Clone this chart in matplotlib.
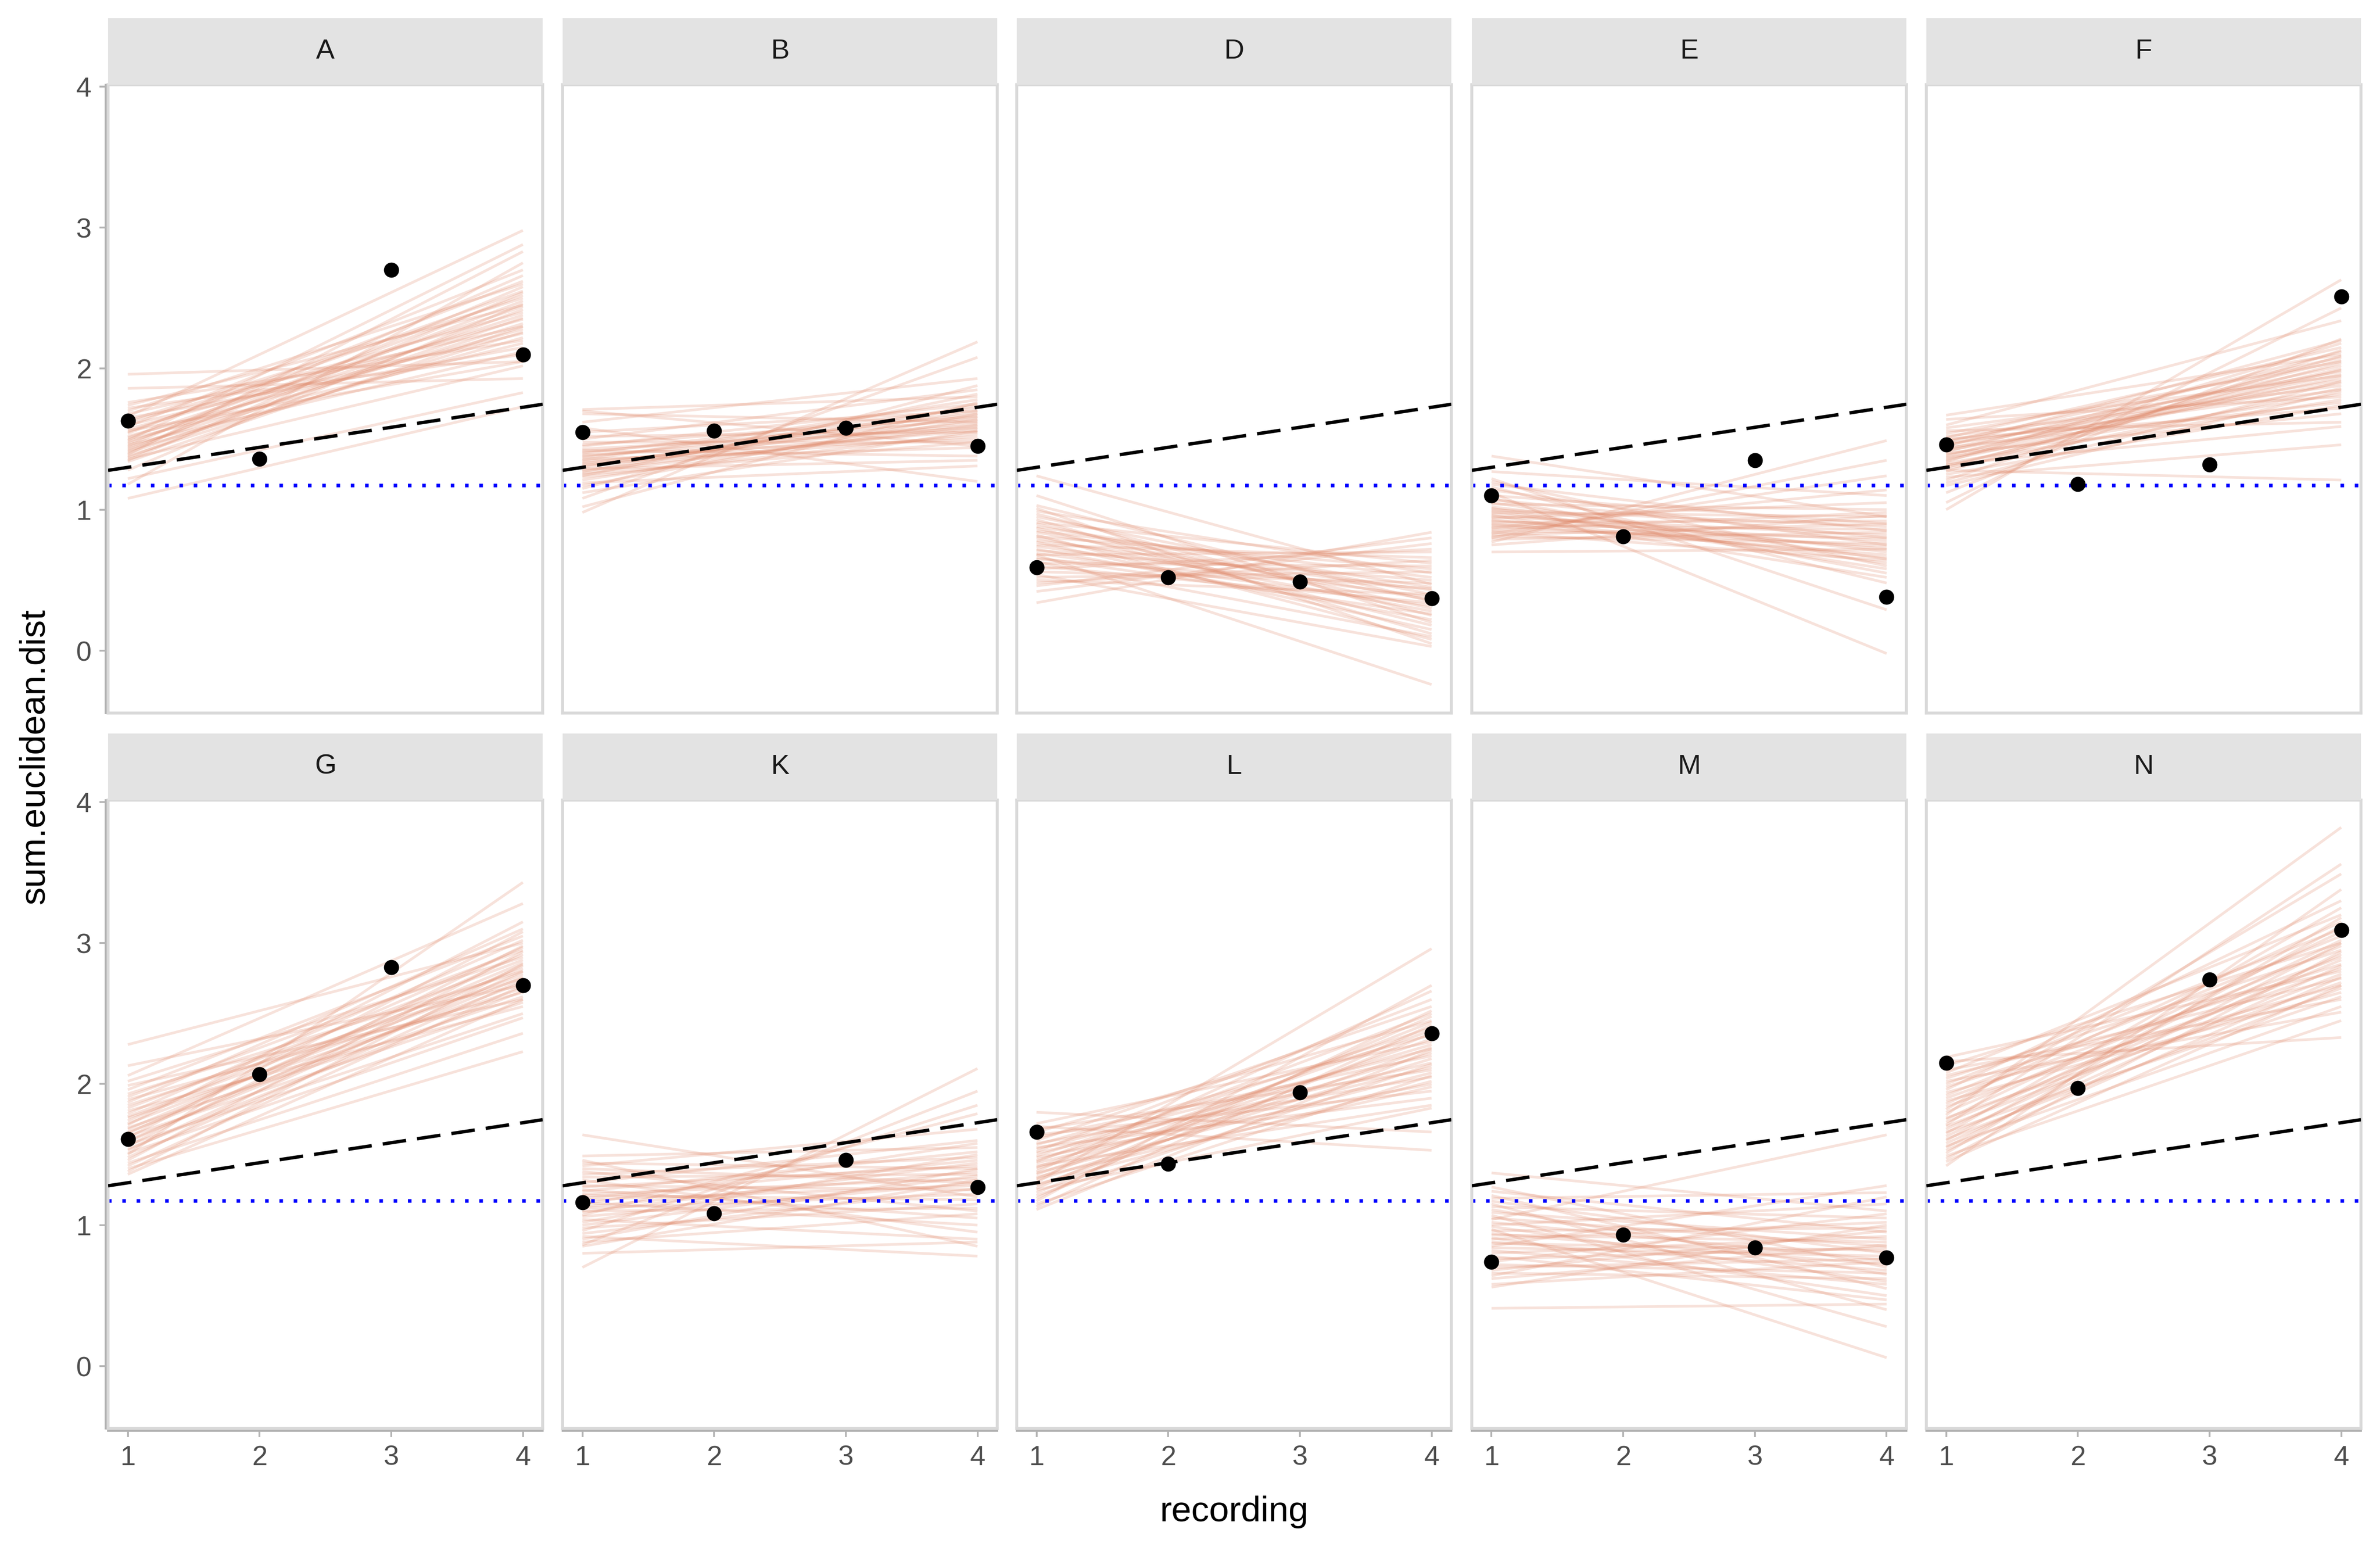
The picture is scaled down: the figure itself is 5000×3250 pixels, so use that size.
import matplotlib
matplotlib.use('Agg')
import matplotlib.pyplot as plt
from matplotlib.transforms import offset_copy

plt.rcParams['font.family'] = ['Liberation Sans', 'DejaVu Sans']

# facets and observed points (recording 1..4)
subjects = ['A', 'B', 'D', 'E', 'F', 'G', 'K', 'L', 'M', 'N']
recording = [1, 2, 3, 4]
obs = {
    'A': [1.63, 1.36, 2.70, 2.10],
    'B': [1.55, 1.56, 1.58, 1.45],
    'D': [0.59, 0.52, 0.49, 0.37],
    'E': [1.10, 0.81, 1.35, 0.38],
    'F': [1.46, 1.18, 1.32, 2.51],
    'G': [1.61, 2.07, 2.83, 2.70],
    'K': [1.16, 1.085, 1.46, 1.27],
    'L': [1.66, 1.435, 1.94, 2.36],
    'M': [0.74, 0.93, 0.84, 0.77],
    'N': [2.15, 1.97, 2.74, 3.09],
}

# population line and reference level
pop_intercept = 1.158
pop_slope = 0.142
ref_level = 1.17

# posterior lines: value at recording 1 and at recording 4
start_A = [1.96, 1.86, 1.76, 1.74, 1.72, 1.70, 1.68, 1.66, 1.65, 1.63, 1.62, 1.60, 1.59, 1.57, 1.56, 1.55, 1.54, 1.52, 1.51, 1.50,
           1.49, 1.48, 1.47, 1.46, 1.45, 1.44, 1.43, 1.42, 1.41, 1.40, 1.39, 1.38, 1.37, 1.36, 1.35, 1.34, 1.28, 1.22, 1.18, 1.08]
end_A = [2.05, 1.93, 2.20, 2.45, 2.10, 2.60, 2.30, 2.98, 2.15, 2.50, 2.40, 2.25, 2.70, 2.35, 2.05, 2.55, 2.62, 2.28, 2.44, 2.18,
         2.88, 2.38, 2.52, 2.12, 2.66, 2.32, 2.48, 2.22, 2.58, 2.36, 2.83, 2.26, 2.42, 2.02, 2.54, 2.30, 2.46, 1.83, 2.75, 1.73]
start_B = [1.71, 1.70, 1.68, 1.62, 1.58, 1.55, 1.52, 1.50, 1.48, 1.46, 1.45, 1.43, 1.42, 1.41, 1.40, 1.39, 1.38, 1.37, 1.36, 1.35,
           1.34, 1.33, 1.32, 1.31, 1.30, 1.29, 1.28, 1.27, 1.26, 1.25, 1.24, 1.23, 1.21, 1.19, 1.17, 1.15, 1.12, 1.08, 1.02, 0.98]
end_B = [1.80, 1.45, 1.62, 1.93, 1.20, 1.70, 1.55, 1.85, 1.48, 1.66, 1.75, 1.58, 1.38, 1.64, 1.72, 1.50, 1.60, 1.68, 1.44, 1.78,
         1.56, 1.62, 1.52, 1.70, 1.66, 1.35, 1.58, 1.74, 1.60, 1.48, 1.82, 1.54, 1.64, 1.31, 1.68, 1.88, 1.56, 2.08, 1.76, 2.19]
start_D = [1.24, 1.10, 1.03, 1.01, 0.99, 0.97, 0.95, 0.93, 0.91, 0.90, 0.88, 0.87, 0.85, 0.84, 0.82, 0.81, 0.80, 0.78, 0.77, 0.75,
           0.74, 0.72, 0.71, 0.69, 0.68, 0.66, 0.65, 0.63, 0.62, 0.60, 0.58, 0.56, 0.54, 0.52, 0.50, 0.48, 0.46, 0.68, 0.42, 0.34]
end_D = [0.47, 0.20, 0.35, 0.05, 0.55, 0.25, 0.40, 0.12, 0.62, 0.30, 0.45, 0.18, 0.52, 0.36, 0.08, 0.58, 0.28, 0.43, 0.15, 0.66,
         0.38, 0.22, 0.50, 0.32, 0.70, 0.26, 0.44, 0.10, 0.60, 0.34, 0.72, 0.48, 0.03, 0.56, 0.40, 0.64, 0.80, -0.24, 0.76, 0.84]
start_E = [1.38, 1.27, 1.22, 1.20, 1.18, 1.16, 1.14, 1.12, 1.10, 1.08, 1.07, 1.05, 1.04, 1.02, 1.01, 1.00, 0.99, 0.98, 0.97, 0.96,
           0.95, 0.94, 0.93, 0.92, 0.91, 0.90, 0.89, 0.88, 0.87, 0.86, 0.85, 0.84, 0.83, 0.82, 0.81, 0.80, 0.79, 0.77, 0.75, 0.70]
end_E = [0.95, 1.10, 0.29, 0.60, 0.85, 0.48, 0.75, -0.02, 0.90, 0.55, 0.80, 0.65, 1.00, 0.70, 0.58, 0.88, 0.62, 0.95, 0.72, 0.52,
         0.82, 1.05, 0.66, 0.78, 0.92, 0.68, 0.86, 0.74, 1.14, 0.98, 0.80, 0.64, 1.24, 0.90, 0.76, 1.35, 0.84, 1.49, 0.96, 0.72]
start_F = [1.67, 1.64, 1.60, 1.58, 1.56, 1.54, 1.52, 1.51, 1.50, 1.49, 1.48, 1.47, 1.46, 1.45, 1.44, 1.43, 1.42, 1.41, 1.40, 1.39,
           1.38, 1.37, 1.36, 1.35, 1.34, 1.33, 1.32, 1.31, 1.30, 1.29, 1.28, 1.27, 1.25, 1.23, 1.21, 1.19, 1.17, 1.12, 1.05, 1.00]
end_F = [2.10, 1.80, 2.34, 1.95, 1.62, 2.05, 1.88, 2.15, 1.72, 1.98, 2.08, 1.85, 1.92, 2.20, 1.76, 2.02, 1.90, 2.12, 1.68, 1.96,
         2.06, 1.82, 2.00, 1.94, 2.18, 1.78, 1.59, 1.99, 2.04, 1.86, 1.21, 2.09, 1.74, 1.46, 2.13, 1.91, 1.84, 2.21, 2.43, 2.63]
start_G = [2.28, 2.13, 2.06, 2.02, 1.99, 1.96, 1.93, 1.91, 1.89, 1.87, 1.85, 1.83, 1.81, 1.79, 1.77, 1.76, 1.74, 1.72, 1.71, 1.69,
           1.68, 1.66, 1.65, 1.63, 1.62, 1.60, 1.59, 1.57, 1.56, 1.54, 1.53, 1.51, 1.50, 1.48, 1.46, 1.44, 1.42, 1.40, 1.38, 1.36]
end_G = [3.00, 2.70, 3.28, 2.90, 2.60, 3.05, 2.80, 2.95, 2.65, 3.10, 2.75, 2.88, 2.55, 3.02, 2.82, 2.68, 2.97, 2.78, 3.15, 2.62,
         2.86, 2.72, 2.92, 2.58, 3.08, 2.76, 2.84, 2.50, 2.98, 2.66, 2.80, 2.47, 3.43, 2.74, 2.94, 2.36, 2.70, 2.23, 2.85, 2.60]
start_K = [1.64, 1.49, 1.46, 1.44, 1.42, 1.40, 1.38, 1.36, 1.34, 1.32, 1.30, 1.28, 1.27, 1.25, 1.24, 1.22, 1.21, 1.19, 1.18, 1.16,
           1.15, 1.13, 1.12, 1.10, 1.09, 1.07, 1.06, 1.04, 1.02, 1.00, 0.98, 0.96, 0.94, 0.92, 0.90, 0.88, 0.86, 0.85, 0.80, 0.70]
end_K = [1.20, 1.55, 0.85, 1.40, 1.68, 1.30, 1.10, 1.48, 1.36, 0.95, 1.60, 1.25, 1.42, 1.05, 1.52, 1.33, 1.18, 1.46, 1.28, 1.00,
         1.58, 1.38, 1.22, 1.12, 1.44, 1.79, 1.30, 0.90, 1.50, 1.35, 1.15, 1.85, 1.26, 0.78, 1.40, 1.08, 1.95, 1.32, 0.88, 2.11]
start_L = [1.80, 1.72, 1.70, 1.68, 1.66, 1.64, 1.62, 1.60, 1.58, 1.57, 1.55, 1.54, 1.52, 1.51, 1.49, 1.48, 1.46, 1.45, 1.44, 1.42,
           1.41, 1.40, 1.38, 1.37, 1.36, 1.34, 1.33, 1.32, 1.30, 1.29, 1.28, 1.26, 1.25, 1.23, 1.21, 1.19, 1.17, 1.15, 1.13, 1.11]
end_L = [1.66, 2.30, 1.53, 2.10, 2.45, 1.95, 2.20, 2.55, 2.05, 2.35, 1.90, 2.25, 2.60, 2.15, 2.40, 2.00, 2.28, 2.50, 2.12, 1.85,
         2.38, 2.22, 2.66, 2.08, 2.32, 1.98, 2.44, 2.18, 2.96, 2.02, 2.26, 2.48, 1.83, 2.36, 2.14, 2.52, 2.70, 2.06, 2.42, 2.24]
start_M = [1.37, 1.27, 1.24, 1.21, 1.19, 1.17, 1.15, 1.13, 1.11, 1.09, 1.07, 1.05, 1.04, 1.02, 1.00, 0.99, 0.97, 0.96, 0.94, 0.93,
           0.91, 0.90, 0.88, 0.87, 0.85, 0.84, 0.82, 0.80, 0.78, 0.76, 0.74, 0.72, 0.70, 0.68, 0.66, 0.64, 0.62, 0.58, 0.56, 0.41]
end_M = [1.10, 0.70, 0.95, 0.55, 1.23, 0.80, 0.40, 1.05, 0.65, 0.90, 0.28, 0.85, 1.64, 0.75, 1.15, 0.60, 0.06, 0.98, 0.72, 0.88,
         0.50, 1.02, 0.68, 0.82, 1.28, 0.78, 0.58, 0.92, 0.47, 0.84, 1.08, 0.66, 0.76, 0.96, 0.62, 1.20, 0.86, 0.74, 1.00, 0.44]
start_N = [2.19, 2.16, 2.13, 2.10, 2.08, 2.06, 2.04, 2.02, 2.00, 1.98, 1.96, 1.94, 1.92, 1.90, 1.88, 1.86, 1.84, 1.82, 1.80, 1.78,
           1.76, 1.75, 1.73, 1.71, 1.70, 1.68, 1.66, 1.65, 1.63, 1.61, 1.60, 1.58, 1.56, 1.55, 1.53, 1.51, 1.49, 1.47, 1.45, 1.42]
end_N = [2.80, 2.33, 3.00, 2.60, 3.20, 2.75, 2.95, 2.51, 3.10, 2.85, 3.30, 2.70, 3.05, 2.90, 2.65, 3.15, 2.82, 3.49, 2.98, 3.82,
         2.72, 3.08, 2.88, 3.56, 2.78, 3.02, 2.62, 3.25, 2.92, 2.68, 3.12, 2.84, 2.55, 3.00, 2.76, 3.18, 2.45, 2.94, 2.70, 3.38]

post_start = {'A': start_A, 'B': start_B, 'D': start_D, 'E': start_E, 'F': start_F,
              'G': start_G, 'K': start_K, 'L': start_L, 'M': start_M, 'N': start_N}
post_end = {'A': end_A, 'B': end_B, 'D': end_D, 'E': end_E, 'F': end_F,
            'G': end_G, 'K': end_K, 'L': end_L, 'M': end_M, 'N': end_N}

# layout (pixels of the 5000x3250 output)
W, H = 5000, 3250
col_left = [227, 1182, 2136, 3092, 4047]
panel_w = 913
row_top = [178, 1681]
panel_h = 1320
strip_h = 140

fig = plt.figure(figsize=(W / 300, H / 300), dpi=300)

line_col = '#E0896A'

for i, subj in enumerate(subjects):
    r, c = divmod(i, 5)
    left = col_left[c]
    top = row_top[r]
    ax = fig.add_axes([left / W, 1 - (top + panel_h) / H, panel_w / W, panel_h / H])

    # strip
    sax = fig.add_axes([left / W, 1 - top / H, panel_w / W, strip_h / H])
    sax.set_facecolor('#E3E3E3')
    sax.set_xticks([])
    sax.set_yticks([])
    for sp in sax.spines.values():
        sp.set_visible(False)
    sax.text(0.5, 0.5, subj, ha='center', va='center', fontsize=14, color='#1A1A1A',
             transform=sax.transAxes)

    for s, e in zip(post_start[subj], post_end[subj]):
        ax.plot([1, 4], [s, e], color=line_col, alpha=0.24, lw=1.35, solid_capstyle='butt', zorder=1)

    ax.axhline(ref_level, color='blue', lw=1.8, ls=(0, (1, 3)), zorder=2)
    ax.axline((0, pop_intercept), slope=pop_slope, color='black', lw=1.7, ls=(0, (7, 3.3)), zorder=3)
    ax.scatter(recording, obs[subj], s=58, color='black', zorder=4, linewidths=0)

    ax.set_xlim(0.85, 4.15)
    ax.set_ylim(-0.442, 4.013)
    ax.set_xticks(recording)
    ax.set_yticks([0, 1, 2, 3, 4])

    for sp in ax.spines.values():
        sp.set_color('#D9D9D9')
        sp.set_linewidth(1.5)

    ax.tick_params(length=4.3, width=0.9, color='#B3B3B3', labelsize=14, labelcolor='#4D4D4D', pad=4)
    if c == 0:
        tr = offset_copy(ax.transAxes, fig=fig, x=-5, y=0, units='dots')
        ax.plot([0, 0], [0, 1], transform=tr, color='#B3B3B3', lw=1.0, clip_on=False, zorder=5)
    else:
        ax.tick_params(axis='y', left=False, labelleft=False)
    if r == 1:
        tr = offset_copy(ax.transAxes, fig=fig, x=0, y=-5, units='dots')
        ax.plot([0, 1], [0, 0], transform=tr, color='#B3B3B3', lw=1.0, clip_on=False, zorder=5)
    else:
        ax.tick_params(axis='x', bottom=False, labelbottom=False)

fig.text(2593 / W, 1 - 3196 / H, 'recording', ha='center', va='baseline', fontsize=18, color='black')
fig.text(73 / W, 1 - 1589 / H, 'sum.euclidean.dist', ha='center', va='center', rotation=90,
         fontsize=18, color='black')

fig.savefig('out.png', dpi=300, facecolor='white')
